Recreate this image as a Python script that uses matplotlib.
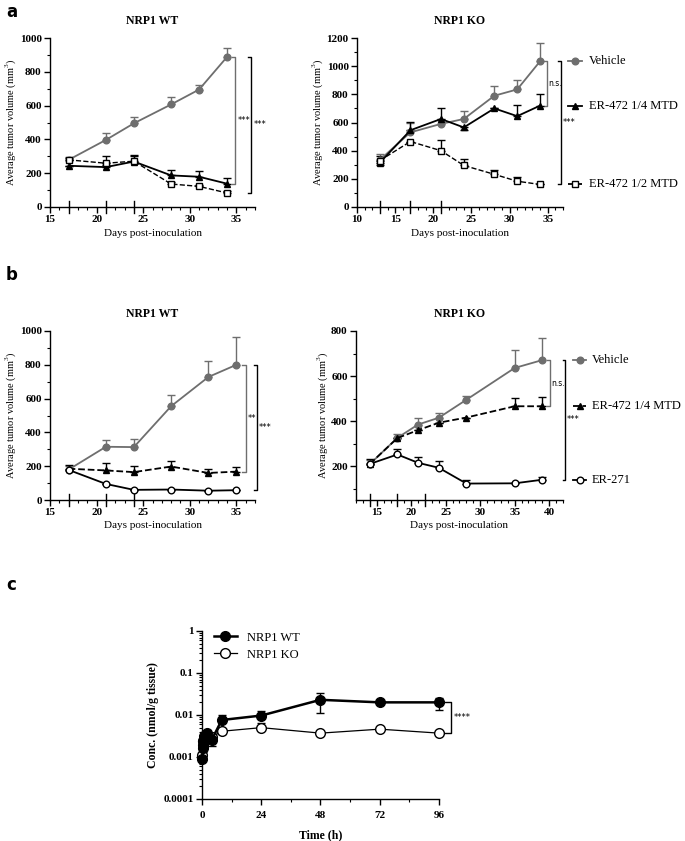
import numpy as np
import matplotlib
matplotlib.use("Agg")
import matplotlib.pyplot as plt
from matplotlib.lines import Line2D
from matplotlib.ticker import MultipleLocator, FixedLocator, NullFormatter

plt.rcParams['font.family'] = ['Liberation Serif', 'DejaVu Serif']
plt.rcParams['mathtext.fontset'] = 'custom'
plt.rcParams['mathtext.rm'] = 'Liberation Serif'

# ---- panel a, NRP1 WT
days_a_wt = [17, 21, 24, 28, 31, 34]
veh_a_wt = [279, 397, 495, 607, 695, 888]
veh_a_wt_err = [15, 40, 35, 45, 25, 55]
q_a_wt = [244, 236, 269, 187, 179, 138]
q_a_wt_err = [0, 15, 40, 30, 35, 35]
h_a_wt = [279, 259, 271, 136, 122, 83]
h_a_wt_err = [10, 40, 30, 10, 10, 10]

# ---- panel a, NRP1 KO
days_a_ko = [13, 17, 21, 24, 28, 31, 34]
veh_a_ko = [335, 530, 590, 625, 790, 835, 1035]
veh_a_ko_err = [40, 70, 30, 55, 70, 70, 130]
q_a_ko = [315, 545, 625, 565, 700, 645, 720]
q_a_ko_err = [0, 60, 75, 0, 0, 80, 85]
q_a_ko_low = [20, 0, 0, 20, 0, 0, 0]
h_a_ko = [330, 465, 400, 295, 232, 183, 160]
h_a_ko_err = [30, 0, 75, 45, 30, 30, 0]

# ---- panel b, NRP1 WT
days_b_wt = [17, 21, 24, 28, 32, 35]
veh_b_wt = [180, 315, 313, 555, 728, 800]
veh_b_wt_err = [20, 40, 50, 65, 95, 165]
q_b_wt = [185, 175, 165, 198, 160, 168]
q_b_wt_err = [20, 45, 35, 35, 25, 25]
e271_b_wt = [178, 95, 60, 62, 55, 58]

# ---- panel b, NRP1 KO
days_b_ko = [14, 18, 21, 24, 28, 35, 39]
veh_b_ko = [209, 326, 385, 415, 495, 636, 671]
veh_b_ko_err = [20, 15, 30, 20, 15, 80, 100]
q_b_ko = [210, 325, 360, 393, 416, 466, 466]
q_b_ko_err = [0, 0, 0, 0, 0, 35, 40]
e271_b_ko = [210, 252, 215, 193, 123, 124, 140]
e271_b_ko_err = [20, 25, 25, 30, 15, 0, 10]

# ---- panel c
time_h = [0.083, 0.25, 0.5, 1, 2, 4, 8, 24, 48, 72, 96]
conc_wt = [0.0009, 0.0016, 0.0024, 0.0032, 0.0037, 0.0026, 0.0076, 0.0097, 0.023, 0.020, 0.020]
wt_lo = [0.0001, 0.0003, 0.0004, 0.0005, 0.0006, 0.0008, 0.0005, 0.001, 0.012, 0.001, 0.007]
wt_hi = [0.0001, 0.0004, 0.0008, 0.0008, 0.0008, 0.0004, 0.0025, 0.0025, 0.011, 0.001, 0.006]
conc_ko = [0.0011, 0.0019, 0.0024, 0.0029, 0.0034, 0.0030, 0.0041, 0.0050, 0.0037, 0.0046, 0.0037]
ko_lo = [0.0001, 0.0002, 0.0002, 0.0003, 0.0003, 0.0003, 0.0006, 0.0003, 0.0002, 0.0002, 0.0002]
ko_hi = [0.0001, 0.0002, 0.0002, 0.0003, 0.0003, 0.0003, 0.0003, 0.0015, 0.0002, 0.0002, 0.0002]

GRAY = '#6e6e6e'
W, H = 685, 841
fig = plt.figure(figsize=(W / 100, H / 100), dpi=100)


def px_axes(left, top, right, bottom):
    return fig.add_axes([left / W, 1 - bottom / H, (right - left) / W, (bottom - top) / H])


def style(ax, title=None):
    for s in ['top', 'right']:
        ax.spines[s].set_visible(False)
    for s in ['left', 'bottom']:
        ax.spines[s].set_linewidth(1.0)
    ax.tick_params(which='major', length=4, width=1, labelsize=8, pad=2)
    ax.tick_params(which='minor', length=2, width=0.8)
    for lab in ax.get_xticklabels() + ax.get_yticklabels():
        lab.set_fontweight('bold')
    if title:
        ax.set_title(title, fontsize=8.5, fontweight='bold', pad=10)


def series(ax, x, y, err, color, marker, ls, mfc, low=None, ms=4.8, lw=1.3):
    lo = np.zeros(len(y)) if low is None else np.array(low)
    ax.errorbar(x, y, yerr=[lo, err], color=color, marker=marker, ls=ls, lw=lw,
                mfc=mfc, mec=color, ms=ms, capsize=3, elinewidth=1, capthick=1,
                clip_on=False, zorder=3)


def bracket(ax, x, y0, y1, text, color='black', dx=0.35, tdx=0.25, fs=6):
    ax.plot([x - dx, x, x, x - dx], [y0, y0, y1, y1], color=color, lw=1, clip_on=False)
    if ax.get_yscale() == 'log':
        ym = np.sqrt(y0 * y1)
    else:
        ym = (y0 + y1) / 2
    ax.text(x + tdx, ym, text, fontsize=fs, va='center', ha='left', color='black',
            family='DejaVu Sans')


def legend_entry(ax, x0, x1, y, label, color, marker, ls, mfc):
    ax.plot([x0, x1], [y, y], color=color, ls=ls, lw=1.3, clip_on=False)
    ax.plot([(x0 + x1) / 2], [y], color=color, marker=marker, mfc=mfc, mec=color,
            ms=4.8, clip_on=False)
    ax.text(x1 + 0.9, y, label, fontsize=9, va='center', ha='left')


def treat_ticks(ax, xs, ymin, span):
    for x in xs:
        ax.plot([x, x], [ymin - span, ymin + span], color='black', lw=1, clip_on=False)


def days_axis(ax, xlim, ylim, yticks):
    ax.set_xlim(*xlim)
    ax.set_ylim(*ylim)
    ax.xaxis.set_major_locator(MultipleLocator(5))
    ax.xaxis.set_minor_locator(MultipleLocator(1))
    ax.yaxis.set_major_locator(FixedLocator(yticks))
    ax.yaxis.set_minor_locator(MultipleLocator(100))
    ax.set_xlabel('Days post-inoculation', fontsize=8, labelpad=3)
    ax.set_ylabel('Average tumor volume (mm$^3$)', fontsize=7.5, labelpad=1)


# ---------- a left
ax = px_axes(50, 38, 255, 207)
days_axis(ax, (15, 37), (0, 1000), range(0, 1001, 200))
series(ax, days_a_wt, veh_a_wt, veh_a_wt_err, GRAY, 'o', '-', GRAY)
series(ax, days_a_wt, q_a_wt, q_a_wt_err, 'black', '^', '-', 'black')
series(ax, days_a_wt, h_a_wt, h_a_wt_err, 'black', 's', '--', 'white', lw=1)
treat_ticks(ax, [17, 21, 24], 0, 38)
bracket(ax, 34.9, 888, 138, '***', color=GRAY)
bracket(ax, 36.6, 888, 83, '***')
style(ax, 'NRP1 WT')

# ---------- a right
ax = px_axes(357, 38, 563, 207)
days_axis(ax, (10, 37), (0, 1200), range(0, 1201, 200))
series(ax, days_a_ko, veh_a_ko, veh_a_ko_err, GRAY, 'o', '-', GRAY)
series(ax, days_a_ko, q_a_ko, q_a_ko_err, 'black', '^', '-', 'black', low=q_a_ko_low)
series(ax, days_a_ko, h_a_ko, h_a_ko_err, 'black', 's', '--', 'white', lw=1)
treat_ticks(ax, [13, 17, 21], 0, 45)
bracket(ax, 34.9, 1035, 720, 'n.s.', color=GRAY, tdx=0.2, fs=5.5)
bracket(ax, 36.7, 1035, 160, '***')
legend_entry(ax, 37.6, 39.5, 1035, 'Vehicle', GRAY, 'o', '-', GRAY)
legend_entry(ax, 37.6, 39.5, 720, 'ER-472 1/4 MTD', 'black', '^', '-', 'black')
legend_entry(ax, 37.6, 39.5, 160, 'ER-472 1/2 MTD', 'black', 's', '--', 'white')
style(ax, 'NRP1 KO')

# ---------- b left
ax = px_axes(50, 331, 255, 500)
days_axis(ax, (15, 37), (0, 1000), range(0, 1001, 200))
series(ax, days_b_wt, veh_b_wt, veh_b_wt_err, GRAY, 'o', '-', GRAY)
series(ax, days_b_wt, q_b_wt, q_b_wt_err, 'black', '^', '--', 'black')
series(ax, days_b_wt, e271_b_wt, np.zeros(6), 'black', 'o', '-', 'white')
treat_ticks(ax, [17, 21, 24], 0, 38)
bracket(ax, 36.0, 800, 168, '**', color=GRAY)
bracket(ax, 37.2, 800, 58, '***')
style(ax, 'NRP1 WT')

# ---------- b right
ax = px_axes(356, 331, 563, 500)
days_axis(ax, (12, 42), (50, 800), range(200, 801, 200))
series(ax, days_b_ko, veh_b_ko, veh_b_ko_err, GRAY, 'o', '-', GRAY)
series(ax, days_b_ko, q_b_ko, q_b_ko_err, 'black', '^', '--', 'black')
series(ax, days_b_ko, e271_b_ko, e271_b_ko_err, 'black', 'o', '-', 'white')
treat_ticks(ax, [14, 18, 22], 50, 28)
bracket(ax, 40.1, 671, 466, 'n.s.', color=GRAY, tdx=0.2, fs=5.5)
bracket(ax, 42.3, 671, 140, '***')
legend_entry(ax, 43.5, 45.3, 671, 'Vehicle', GRAY, 'o', '-', GRAY)
legend_entry(ax, 43.5, 45.3, 466, 'ER-472 1/4 MTD', 'black', '^', '--', 'black')
legend_entry(ax, 43.5, 45.3, 140, 'ER-271', 'black', 'o', '-', 'white')
style(ax, 'NRP1 KO')

# ---------- c
ax = px_axes(202, 631, 439, 799)
ax.set_yscale('log')
ax.set_xlim(0, 96)
ax.set_ylim(1e-4, 1)
ax.errorbar(time_h, conc_wt, yerr=[wt_lo, wt_hi], color='black', marker='o', ms=7,
            lw=1.8, capsize=3, elinewidth=1, capthick=1, clip_on=False, zorder=4)
ax.errorbar(time_h, conc_ko, yerr=[ko_lo, ko_hi], color='black', marker='o', ms=7,
            mfc='white', lw=0.9, capsize=3, elinewidth=1, capthick=1, clip_on=False,
            zorder=3)
ax.xaxis.set_major_locator(MultipleLocator(24))
ax.xaxis.set_minor_locator(MultipleLocator(12))
ax.set_yticks([1e-4, 1e-3, 1e-2, 1e-1, 1])
ax.set_yticklabels(['0.0001', '0.001', '0.01', '0.1', '1'])
ax.yaxis.set_minor_formatter(NullFormatter())
ax.tick_params(axis='y', which='minor', length=0)
bracket(ax, 101, 0.020, 0.0037, '****', dx=3, tdx=1)
handles = [Line2D([], [], color='black', marker='o', ms=7, lw=1.8),
           Line2D([], [], color='black', marker='o', ms=7, mfc='white', lw=0.9)]
ax.legend(handles, ['NRP1 WT', 'NRP1 KO'], loc='upper left', bbox_to_anchor=(0.02, 1.04),
          frameon=False, fontsize=9, handlelength=1.8, borderaxespad=0.2, labelspacing=0.4)
ax.set_xlabel('Time (h)', fontsize=8.5, fontweight='bold', labelpad=6)
ax.set_ylabel('Conc. (nmol/g tissue)', fontsize=8.5, fontweight='bold', labelpad=3)
style(ax)
ax.tick_params(axis='x', which='major', pad=5)

# panel letters
for letter, y in [('a', 12), ('b', 275), ('c', 585)]:
    fig.text(6 / W, 1 - y / H, letter, fontsize=12, fontweight='bold', family='DejaVu Sans',
             va='center', ha='left')

fig.savefig('out.png', dpi=100)
